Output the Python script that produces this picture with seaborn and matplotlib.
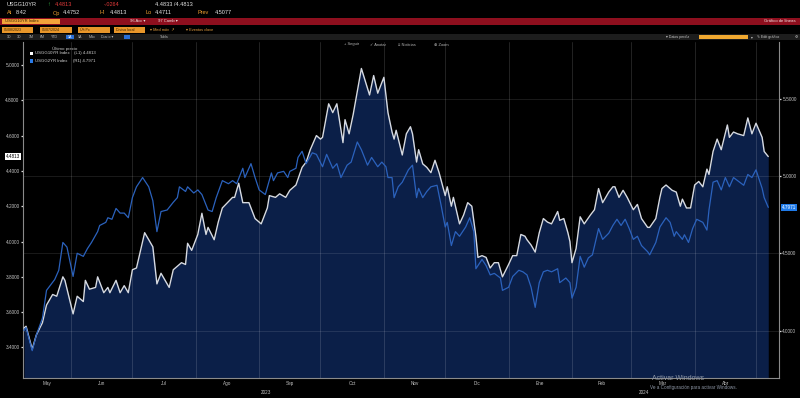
import numpy as np
import pandas as pd
import matplotlib
matplotlib.use("Agg")
import matplotlib.pyplot as plt
from matplotlib.patches import Rectangle
from matplotlib.transforms import blended_transform_factory
import seaborn as sns

# USGG10YR Index (left axis, white line with filled area)
dates_10y = [
    "2023-05-09", "2023-05-10", "2023-05-13", "2023-05-15", "2023-05-18", "2023-05-20", "2023-05-23", "2023-05-25", "2023-05-28", "2023-05-29",
    "2023-06-02", "2023-06-04", "2023-06-07", "2023-06-08", "2023-06-10", "2023-06-13", "2023-06-14", "2023-06-17", "2023-06-19", "2023-06-20",
    "2023-06-23", "2023-06-25", "2023-06-27", "2023-06-29", "2023-07-01", "2023-07-03", "2023-07-07", "2023-07-11", "2023-07-13", "2023-07-15",
    "2023-07-19", "2023-07-21", "2023-07-23", "2023-07-25", "2023-07-27", "2023-07-28", "2023-07-30", "2023-08-02", "2023-08-04", "2023-08-06",
    "2023-08-07", "2023-08-10", "2023-08-12", "2023-08-14", "2023-08-19", "2023-08-20", "2023-08-22", "2023-08-24", "2023-08-27", "2023-08-30",
    "2023-09-02", "2023-09-05", "2023-09-06", "2023-09-09", "2023-09-11", "2023-09-14", "2023-09-16", "2023-09-19", "2023-09-22", "2023-09-24",
    "2023-09-26", "2023-09-29", "2023-10-01", "2023-10-02", "2023-10-05", "2023-10-07", "2023-10-09", "2023-10-12", "2023-10-13", "2023-10-15",
    "2023-10-17", "2023-10-21", "2023-10-25", "2023-10-27", "2023-10-29", "2023-11-01", "2023-11-03", "2023-11-05", "2023-11-06", "2023-11-07",
    "2023-11-10", "2023-11-12", "2023-11-14", "2023-11-15", "2023-11-17", "2023-11-18", "2023-11-20", "2023-11-22", "2023-11-24", "2023-11-26",
    "2023-11-28", "2023-12-01", "2023-12-02", "2023-12-04", "2023-12-05", "2023-12-08", "2023-12-10", "2023-12-12", "2023-12-14", "2023-12-16",
    "2023-12-17", "2023-12-19", "2023-12-21", "2023-12-23", "2023-12-25", "2023-12-27", "2023-12-29", "2024-01-01", "2024-01-03", "2024-01-05",
    "2024-01-07", "2024-01-09", "2024-01-10", "2024-01-12", "2024-01-14", "2024-01-16", "2024-01-18", "2024-01-20", "2024-01-22", "2024-01-25",
    "2024-01-26", "2024-01-28", "2024-01-30", "2024-01-31", "2024-02-01", "2024-02-03", "2024-02-05", "2024-02-07", "2024-02-10", "2024-02-12",
    "2024-02-14", "2024-02-16", "2024-02-19", "2024-02-21", "2024-02-22", "2024-02-24", "2024-02-26", "2024-02-28", "2024-03-02", "2024-03-04",
    "2024-03-06", "2024-03-09", "2024-03-10", "2024-03-13", "2024-03-15", "2024-03-16", "2024-03-18", "2024-03-21", "2024-03-23", "2024-03-25",
    "2024-03-26", "2024-03-28", "2024-03-30", "2024-04-01", "2024-04-03", "2024-04-05", "2024-04-07", "2024-04-08", "2024-04-10", "2024-04-12",
    "2024-04-14", "2024-04-17", "2024-04-18", "2024-04-20", "2024-04-22", "2024-04-25", "2024-04-27", "2024-04-29", "2024-05-01", "2024-05-04",
    "2024-05-05", "2024-05-07",
]
yield_10y = [
    3.51, 3.52, 3.39, 3.47, 3.54, 3.64, 3.70, 3.69, 3.80, 3.78,
    3.59, 3.69, 3.66, 3.78, 3.73, 3.74, 3.80, 3.71, 3.74, 3.71,
    3.78, 3.71, 3.75, 3.71, 3.84, 3.85, 4.05, 3.97, 3.76, 3.82,
    3.74, 3.84, 3.86, 3.88, 3.87, 3.99, 3.95, 4.04, 4.16, 4.04,
    4.08, 4.01, 4.11, 4.19, 4.25, 4.25, 4.33, 4.22, 4.22, 4.13,
    4.10, 4.19, 4.26, 4.25, 4.27, 4.25, 4.29, 4.32, 4.42, 4.45,
    4.52, 4.60, 4.58, 4.59, 4.78, 4.73, 4.78, 4.56, 4.69, 4.61,
    4.72, 4.98, 4.83, 4.94, 4.84, 4.93, 4.73, 4.62, 4.58, 4.63,
    4.49, 4.61, 4.65, 4.61, 4.45, 4.52, 4.44, 4.42, 4.39, 4.46,
    4.39, 4.26, 4.31, 4.20, 4.25, 4.10, 4.15, 4.22, 4.20, 4.03,
    3.91, 3.92, 3.91, 3.85, 3.88, 3.88, 3.80, 3.87, 3.92, 3.92,
    4.04, 4.03, 4.01, 3.98, 3.94, 4.05, 4.13, 4.11, 4.10, 4.17,
    4.12, 4.13, 4.05, 4.00, 3.88, 3.96, 4.14, 4.10, 4.15, 4.18,
    4.30, 4.22, 4.28, 4.31, 4.31, 4.25, 4.29, 4.25, 4.18, 4.21,
    4.13, 4.08, 4.08, 4.13, 4.25, 4.30, 4.32, 4.29, 4.28, 4.20,
    4.24, 4.19, 4.19, 4.32, 4.34, 4.31, 4.41, 4.38, 4.51, 4.58,
    4.52, 4.66, 4.59, 4.62, 4.61, 4.60, 4.70, 4.61, 4.67, 4.59,
    4.51, 4.4813,
]

# USGG2YR Index (right axis, blue line)
dates_2y = [
    "2023-05-09", "2023-05-10", "2023-05-13", "2023-05-15", "2023-05-18", "2023-05-20", "2023-05-24", "2023-05-26", "2023-05-28", "2023-05-30",
    "2023-06-02", "2023-06-04", "2023-06-07", "2023-06-09", "2023-06-11", "2023-06-14", "2023-06-15", "2023-06-18", "2023-06-19", "2023-06-21",
    "2023-06-23", "2023-06-25", "2023-06-27", "2023-06-29", "2023-07-01", "2023-07-03", "2023-07-06", "2023-07-09", "2023-07-11", "2023-07-13",
    "2023-07-15", "2023-07-18", "2023-07-21", "2023-07-23", "2023-07-24", "2023-07-27", "2023-07-28", "2023-07-31", "2023-08-02", "2023-08-04",
    "2023-08-07", "2023-08-09", "2023-08-11", "2023-08-14", "2023-08-17", "2023-08-19", "2023-08-21", "2023-08-24", "2023-08-25", "2023-08-28",
    "2023-08-30", "2023-09-01", "2023-09-04", "2023-09-07", "2023-09-08", "2023-09-10", "2023-09-13", "2023-09-15", "2023-09-16", "2023-09-19",
    "2023-09-20", "2023-09-22", "2023-09-24", "2023-09-27", "2023-09-29", "2023-10-02", "2023-10-04", "2023-10-07", "2023-10-09", "2023-10-11",
    "2023-10-14", "2023-10-16", "2023-10-19", "2023-10-21", "2023-10-24", "2023-10-26", "2023-10-29", "2023-10-31", "2023-11-02", "2023-11-03",
    "2023-11-05", "2023-11-06", "2023-11-08", "2023-11-10", "2023-11-13", "2023-11-15", "2023-11-17", "2023-11-18", "2023-11-20", "2023-11-22",
    "2023-11-24", "2023-11-27", "2023-11-29", "2023-12-01", "2023-12-02", "2023-12-04", "2023-12-06", "2023-12-08", "2023-12-11", "2023-12-13",
    "2023-12-15", "2023-12-16", "2023-12-19", "2023-12-21", "2023-12-23", "2023-12-25", "2023-12-28", "2023-12-29", "2024-01-01", "2024-01-03",
    "2024-01-06", "2024-01-08", "2024-01-10", "2024-01-12", "2024-01-14", "2024-01-16", "2024-01-18", "2024-01-20", "2024-01-22", "2024-01-25",
    "2024-01-26", "2024-01-29", "2024-01-31", "2024-02-01", "2024-02-03", "2024-02-05", "2024-02-07", "2024-02-09", "2024-02-11", "2024-02-14",
    "2024-02-16", "2024-02-19", "2024-02-21", "2024-02-23", "2024-02-25", "2024-02-27", "2024-02-29", "2024-03-02", "2024-03-04", "2024-03-06",
    "2024-03-09", "2024-03-10", "2024-03-13", "2024-03-15", "2024-03-18", "2024-03-20", "2024-03-22", "2024-03-23", "2024-03-26", "2024-03-27",
    "2024-03-29", "2024-03-31", "2024-04-02", "2024-04-05", "2024-04-07", "2024-04-08", "2024-04-10", "2024-04-12", "2024-04-14", "2024-04-16",
    "2024-04-18", "2024-04-20", "2024-04-23", "2024-04-25", "2024-04-27", "2024-04-29", "2024-05-01", "2024-05-04", "2024-05-05", "2024-05-07",
]
yield_2y = [
    4.00, 4.02, 3.87, 3.97, 4.08, 4.26, 4.33, 4.39, 4.57, 4.54,
    4.35, 4.50, 4.48, 4.53, 4.57, 4.64, 4.68, 4.70, 4.73, 4.72,
    4.79, 4.76, 4.76, 4.73, 4.86, 4.93, 4.99, 4.93, 4.84, 4.64,
    4.77, 4.78, 4.83, 4.86, 4.93, 4.90, 4.93, 4.89, 4.91, 4.88,
    4.78, 4.77, 4.86, 4.97, 4.95, 4.97, 4.95, 5.05, 4.99, 5.08,
    4.99, 4.91, 4.88, 5.02, 4.97, 5.02, 5.03, 4.99, 5.03, 5.05,
    5.12, 5.16, 5.08, 5.15, 5.14, 5.06, 5.14, 5.05, 5.08, 4.99,
    5.07, 5.09, 5.22, 5.17, 5.07, 5.12, 5.06, 5.09, 5.06, 4.99,
    4.99, 4.86, 4.93, 4.96, 5.04, 5.07, 4.86, 4.92, 4.86, 4.90,
    4.93, 4.94, 4.81, 4.67, 4.70, 4.55, 4.64, 4.61, 4.67, 4.73,
    4.64, 4.40, 4.46, 4.42, 4.36, 4.37, 4.34, 4.26, 4.28, 4.35,
    4.39, 4.38, 4.36, 4.28, 4.15, 4.31, 4.38, 4.39, 4.38, 4.40,
    4.31, 4.34, 4.31, 4.21, 4.28, 4.48, 4.41, 4.47, 4.49, 4.66,
    4.59, 4.63, 4.68, 4.72, 4.68, 4.72, 4.66, 4.59, 4.61, 4.55,
    4.51, 4.49, 4.57, 4.67, 4.73, 4.70, 4.61, 4.64, 4.59, 4.62,
    4.57, 4.66, 4.72, 4.70, 4.65, 4.78, 4.96, 4.97, 4.91, 4.99,
    4.93, 4.99, 4.96, 4.94, 5.01, 4.99, 5.04, 4.92, 4.86, 4.7971,
]

month_bounds = ["2023-05-01", "2023-06-01", "2023-07-01", "2023-08-01", "2023-09-01", "2023-10-01", "2023-11-01",
                "2023-12-01", "2024-01-01", "2024-02-01", "2024-03-01", "2024-04-01", "2024-05-01"]
month_labels = ["May", "Jun", "Jul", "Ago", "Sep", "Oct", "Nov", "Dic", "Ene", "Feb", "Mar", "Abr"]
year_labels = ["2023", "2024"]
year_bounds = ["2023-01-01", "2024-01-01", "2025-01-01"]

left_ticks = [3.4, 3.6, 3.8, 4.0, 4.2, 4.4, 4.6, 4.8, 5.0]
right_ticks = [4.0, 4.5, 5.0, 5.5]

left_lim = (3.227, 5.130)
right_lim = (3.693, 5.867)
x_lim = (pd.Timestamp("2023-05-08 12:00"), pd.Timestamp("2024-05-12 06:00"))

NAVY = "#0b1f48"
WHITE_LINE = "#d6dae2"
BLUE_LINE = "#2b62bd"
ORANGE = "#f0a030"
GREY_TXT = "#c4c4c4"

sns.set_theme(style="dark")
plt.rcParams["font.family"] = ["Liberation Sans", "DejaVu Sans"]

d10 = pd.to_datetime(dates_10y)
d2 = pd.to_datetime(dates_2y)

fig = plt.figure(figsize=(8, 3.98), dpi=100, facecolor="black")
ax = fig.add_axes([23 / 800, 20 / 398, 756 / 800, 336 / 398])
ax.set_facecolor("black")
ax2 = ax.twinx()
ax2.patch.set_visible(False)

ax.set_xlim(*x_lim)
ax.set_ylim(*left_lim)
ax2.set_ylim(*right_lim)

# area under the 10y line
ax.fill_between(d10, yield_10y, left_lim[0], color=NAVY, lw=0, zorder=1)

# grid: month starts and right-axis levels (mapped into left units)
bounds = pd.to_datetime(month_bounds)
for b in bounds:
    if x_lim[0] < b < x_lim[1]:
        ax.axvline(b, color="white", alpha=0.16, lw=0.6, zorder=1.5)
for v in right_ticks:
    lv = left_lim[0] + (v - right_lim[0]) * (left_lim[1] - left_lim[0]) / (right_lim[1] - right_lim[0])
    ax.axhline(lv, color="white", alpha=0.12, lw=0.6, zorder=1.5)

sns.lineplot(x=d10, y=yield_10y, ax=ax, color=WHITE_LINE, linewidth=1.0, zorder=3)
sns.lineplot(x=d2, y=yield_2y, ax=ax2, color=BLUE_LINE, linewidth=0.9, zorder=3)
ax.set_xlabel("")
ax.set_ylabel("")
ax2.set_ylabel("")

# y ticks
ax.set_yticks(left_ticks)
ax.set_yticklabels([f"{v:.4f}" for v in left_ticks])
ax2.set_yticks(right_ticks)
ax2.set_yticklabels([f"{v:.4f}" for v in right_ticks])
for a in (ax, ax2):
    a.tick_params(axis="y", which="major", length=1.6, width=0.9, color="#dddddd", pad=0.8,
                  labelsize=3.4, labelcolor=GREY_TXT)
    a.grid(False)

# x ticks: month starts as ticks, labels in the middle of the visible month
vis_mid = []
for i in range(len(month_labels)):
    s = max(bounds[i], x_lim[0])
    e = min(bounds[i + 1], x_lim[1])
    vis_mid.append(s + (e - s) / 2)
ax.set_xticks([b for b in bounds if x_lim[0] < b < x_lim[1]])
ax.set_xticklabels([])
ax.set_xticks(vis_mid, minor=True)
ax.set_xticklabels(month_labels, minor=True)
ax.tick_params(axis="x", which="major", length=1.8, width=0.7, color="#9a9a9a", direction="out")
ax.tick_params(axis="x", which="minor", length=0, pad=2.2, labelsize=3.3, labelcolor=GREY_TXT)

ybounds = pd.to_datetime(year_bounds)
tr_x = blended_transform_factory(ax.transData, ax.transAxes)
for i, lab in enumerate(year_labels):
    s = max(ybounds[i], x_lim[0])
    e = min(ybounds[i + 1], x_lim[1])
    ax.text(s + (e - s) / 2, -0.042, lab, transform=tr_x, ha="center", va="center",
            fontsize=3.3, color=GREY_TXT)

for a in (ax, ax2):
    for sp in a.spines.values():
        sp.set_visible(False)
ax.spines["left"].set_visible(True)
ax.spines["bottom"].set_visible(True)
ax2.spines["right"].set_visible(True)
for sp in (ax.spines["left"], ax.spines["bottom"], ax2.spines["right"]):
    sp.set_color("#8a8a8a")
    sp.set_linewidth(0.8)

# last value tags
ax.text(-0.004, yield_10y[-1], f"{yield_10y[-1]:.4f}", transform=blended_transform_factory(ax.transAxes, ax.transData),
        ha="right", va="center", fontsize=3.3, color="black",
        bbox=dict(boxstyle="square,pad=0.25", fc="white", ec="none"), clip_on=False)
ax2.text(1.004, yield_2y[-1], f"{yield_2y[-1]:.4f}", transform=blended_transform_factory(ax2.transAxes, ax2.transData),
         ha="left", va="center", fontsize=3.3, color="white",
         bbox=dict(boxstyle="square,pad=0.25", fc="#1f7ae8", ec="none"), clip_on=False)

# terminal header and legend drawn in pixel space
hdr = fig.add_axes([0, 0, 1, 1], zorder=10)
hdr.set_xlim(0, 800)
hdr.set_ylim(398, 0)
hdr.axis("off")
hdr.patch.set_visible(False)


def put(x, y, s, color, size=4.0, ha="left", **kw):
    hdr.text(x, y, s, color=color, fontsize=size, ha=ha, va="center", **kw)


def box(x, y, w, h, color, **kw):
    hdr.add_patch(Rectangle((x, y), w, h, facecolor=color, edgecolor="none", **kw))


put(7, 5, "USGG10YR", "#e6e6e6")
put(47, 5, "↑", "#37c24a")
put(55, 5, f"{yield_10y[-1]:.4f}", "#e23a3a")
put(104, 5, "-.0264", "#e23a3a")
put(155, 5, "4.4833 /4.4813", "#e6e6e6")
put(7, 13, "At", ORANGE)
put(16, 13, "8:42", "#e6e6e6")
put(53, 13, "Op", ORANGE)
put(63, 13, "4.4752", "#e6e6e6")
put(100, 13, "Hi", ORANGE)
put(110, 13, "4.4813", "#e6e6e6")
put(145, 13, "Lo", ORANGE)
put(155, 13, "4.4711", "#e6e6e6")
put(197, 13, "Prev", ORANGE)
put(215, 13, "4.5077", "#e6e6e6")

box(0, 18, 800, 7, "#8e0f1e")
box(2, 18.7, 58, 5.6, "#f2a33a")
put(5, 21.5, "USGG10YR Index", "#3a2200", 3.0)
put(130, 21.5, "96 Acc ▾", "#f0e0e0", 3.0)
put(158, 21.5, "97 Camb ▾", "#f0e0e0", 3.0)
put(796, 21.5, "Gráfico de líneas", "#f4e6e6", 3.1, ha="right")

for x0, w, lab in [(2, 31, "05/08/2023"), (40, 32, "05/07/2024"), (78, 32, "Últ Px"), (114, 31, "Divisa local")]:
    box(x0, 27.3, w, 5.4, "#e8962a")
    put(x0 + 2, 30, lab, "#3a2200", 2.6)
put(150, 30, "▾ Med móv  ↗", "#e8a040", 2.8)
put(186, 30, "▾ Eventos clave", "#e8a040", 2.8)

box(0, 34.3, 800, 5.6, "#1d1d1d")
for x0, lab in [(7, "1D"), (17, "3D"), (29, "1M"), (40, "6M"), (51, "YTD"), (78, "5A"), (89, "Máx"), (101, "Diario ▾"), (160, "Tabla")]:
    put(x0, 37.1, lab, "#b8b8b8", 2.6)
box(66, 35, 8, 4.2, "#2a6fd6")
put(67.5, 37.1, "1A", "white", 2.6)
box(124, 35, 6, 4.2, "#2a6fd6")
put(666, 37.1, "▾ Datos perdiz", "#c8c8c8", 2.6)
box(699, 35, 49, 4.4, "#f0a830")
put(751, 37.1, "▾", "#c8c8c8", 2.6)
put(757, 37.1, "✎ Edit gráfico", "#c8c8c8", 2.6)
put(795, 37.1, "⚙", "#c8c8c8", 2.6)

put(344, 44.5, "+ Seguir", "#b4b4b4", 2.9)
put(370, 44.5, "✓ Anotar", "#b4b4b4", 2.9)
put(398, 44.5, "≡ Noticias", "#b4b4b4", 2.9)
put(434, 44.5, "⊕ Zoom", "#b4b4b4", 2.9)

put(52, 48.5, "Último precio", "#c4c4c4", 3.2)
box(29.5, 51.5, 3.6, 3.6, "white")
put(35, 53.3, f"USGG10YR Index    (L1) {yield_10y[-1]:.4f}", "#d4d4d4", 3.1)
box(29.5, 59.3, 3.6, 3.6, "#2a7be8")
put(35, 61.1, f"USGG2YR Index     (R1) {yield_2y[-1]:.4f}", "#d4d4d4", 3.1)

put(652, 379, "Activar Windows", "#8e97a6", 5.0)
put(650, 387, "Ve a Configuración para activar Windows.", "#8e97a6", 3.3)

fig.savefig("out.png", dpi=100, facecolor="black")
